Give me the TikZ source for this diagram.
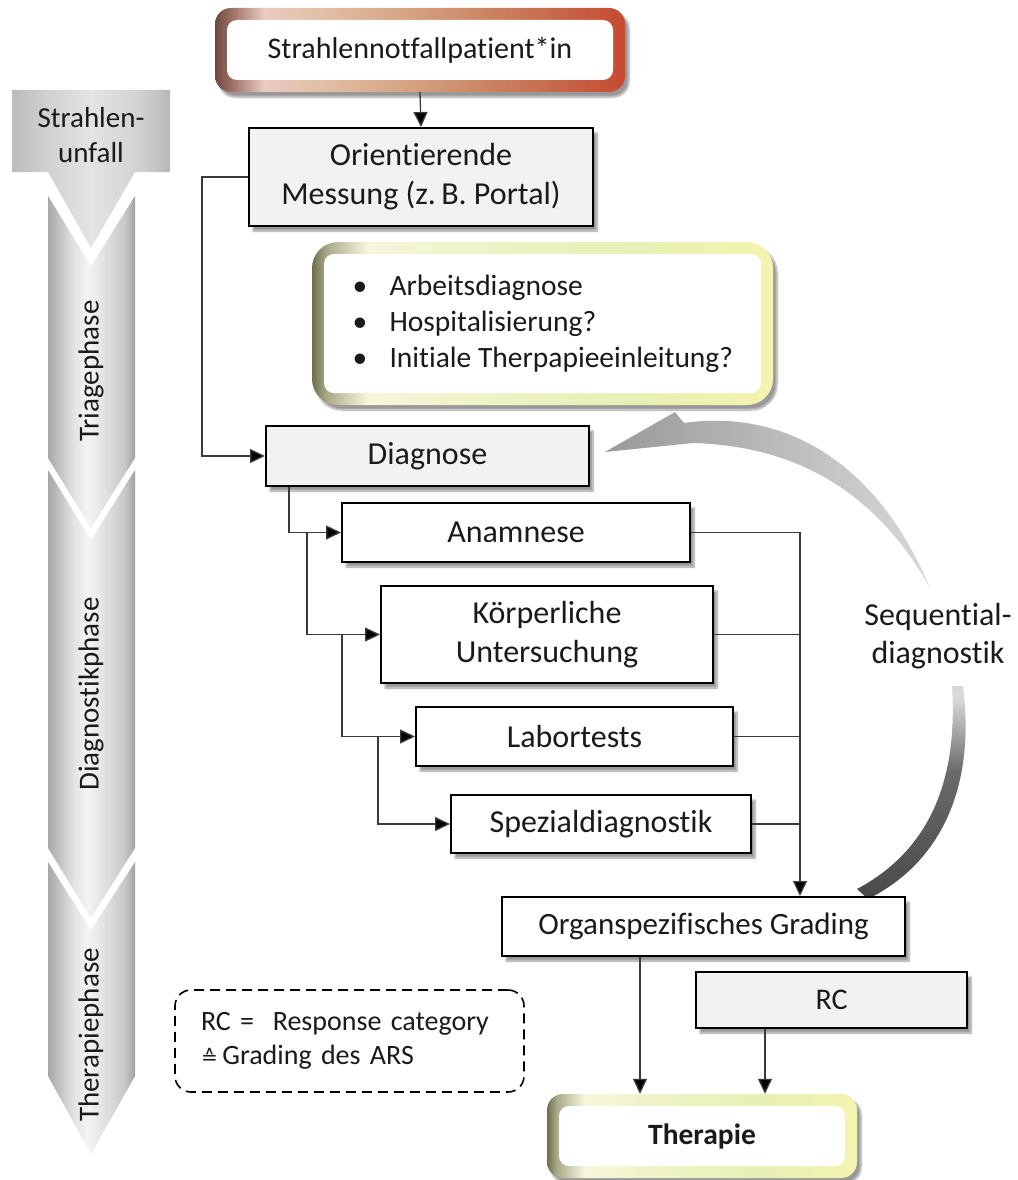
\documentclass[tikz,border=0pt]{standalone}
\usepackage{fontspec}
\setmainfont{Carlito}[Ligatures={NoCommon,NoRare,NoContextual}]
\newfontfamily\symfont{DejaVu Sans}
\usetikzlibrary{arrows.meta,shadows.blur,calc}

\definecolor{ink}{HTML}{1A1A1A}
\definecolor{boxgray}{HTML}{F2F2F2}
\definecolor{wire}{HTML}{3A3A3A}
% copper frame
\definecolor{rf0}{HTML}{6B4A42}\definecolor{rf1}{HTML}{9E6E62}
\definecolor{rf2}{HTML}{EACBC2}\definecolor{rf3}{HTML}{E2BFA5}
\definecolor{rf4}{HTML}{D39E7C}\definecolor{rf5}{HTML}{C87858}
\definecolor{rf6}{HTML}{C64A30}
% olive/yellow frame
\definecolor{yf0}{HTML}{6E6E50}\definecolor{yf1}{HTML}{A8A888}
\definecolor{yf2}{HTML}{F6F6DC}\definecolor{yf3}{HTML}{EEF4C8}
\definecolor{yf4}{HTML}{E6F0B4}\definecolor{yf5}{HTML}{F4F4B0}
% silver phase arrows
\definecolor{sv0}{HTML}{A8A8A8}\definecolor{sv1}{HTML}{E4E4E4}
\definecolor{sv2}{HTML}{F4F4F4}\definecolor{sv3}{HTML}{DCDCDC}
\definecolor{sv4}{HTML}{C8C8C8}\definecolor{sv5}{HTML}{A0A0A0}
\definecolor{hb0}{HTML}{BCBCBC}\definecolor{hb1}{HTML}{CFCFCF}
\definecolor{hb2}{HTML}{E4E4E4}\definecolor{hb3}{HTML}{D2D2D2}
\definecolor{hb4}{HTML}{B8B8B8}
% loop arrow
\definecolor{arcdark}{HTML}{999999}\definecolor{arclight}{HTML}{D8D8D8}
\definecolor{arcdeep}{HTML}{4A4A4A}\definecolor{arcmid}{HTML}{6A6A6A}

\pgfdeclarehorizontalshading{copperframe}{100bp}{color(0bp)=(rf0); color(25bp)=(rf0);
  color(27bp)=(rf1); color(31bp)=(rf2); color(38bp)=(rf3); color(50bp)=(rf4);
  color(62bp)=(rf5); color(75bp)=(rf6); color(100bp)=(rf6)}
\pgfdeclarehorizontalshading{oliveframe}{100bp}{color(0bp)=(yf0); color(25bp)=(yf0);
  color(26.5bp)=(yf1); color(31bp)=(yf2); color(42bp)=(yf3); color(60bp)=(yf4);
  color(75bp)=(yf5); color(100bp)=(yf5)}
\pgfdeclarehorizontalshading{silver}{100bp}{color(0bp)=(sv0); color(25bp)=(sv0);
  color(40bp)=(sv1); color(48bp)=(sv2); color(60bp)=(sv3); color(69bp)=(sv4);
  color(75bp)=(sv5); color(100bp)=(sv5)}
\pgfdeclarehorizontalshading{headgray}{100bp}{color(0bp)=(hb0); color(25bp)=(hb0);
  color(35bp)=(hb1); color(50bp)=(hb2); color(65bp)=(hb3); color(75bp)=(hb4);
  color(100bp)=(hb4)}
\pgfdeclareverticalshading{loopfoot}{100bp}{color(0bp)=(arcdeep); color(25bp)=(arcdeep);
  color(55bp)=(arcmid); color(72bp)=(arclight); color(75bp)=(arclight); color(100bp)=(arclight)}

\tikzset{
  soft/.style={blur shadow={shadow xshift=4pt,shadow yshift=-5pt,shadow opacity=40,shadow blur steps=8}},
  plain/.style={draw=black, line width=2pt, fill=white, text=ink, align=center,
    inner sep=0pt, font=\fontsize{32}{39}\selectfont, soft},
  greybox/.style={plain, fill=boxgray},
  framed/.style={rounded corners=16pt, text=ink, inner sep=0pt, soft,
    path picture={\fill[white,rounded corners=10pt]
      ([shift={(12pt,-12pt)}]path picture bounding box.north west) rectangle
      ([shift={(-12pt,12pt)}]path picture bounding box.south east);}},
  wire/.style={draw=wire, line width=1.3pt},
  arr/.style={wire, -{Triangle[length=15pt,width=14pt,fill=black]}},
  phase/.style={rotate=90, text=ink, font=\fontsize{29}{35}\selectfont},
}

\begin{document}
\begin{tikzpicture}[x=1pt,y=-1pt]
\useasboundingbox (0,0) rectangle (1017,1180);

% phase arrows on the left
\shade[shading=headgray] (12,90) -- (170,90) -- (170,172) -- (135,172) -- (91,248)
  -- (48,172) -- (12,172) -- cycle;
\shade[shading=silver] (48,196) -- (91,266) -- (135,196) -- (135,458) -- (91,528)
  -- (48,458) -- cycle;
\shade[shading=silver] (48,470) -- (91,540) -- (135,470) -- (135,848) -- (91,918)
  -- (48,848) -- cycle;
\shade[shading=silver] (48,862) -- (91,930) -- (135,862) -- (135,1076) -- (91,1154)
  -- (48,1076) -- cycle;
\node[text=ink, align=center, font=\fontsize{29}{35}\selectfont] (unfall) at (91,135)
  {Strahlen-\\unfall};
\node[phase] (triage) at (91,371) {Triagephase};
\node[phase] (diagph) at (91,694) {Diagnostikphase};
\node[phase] (therph) at (91,1035) {Therapiephase};

% sequential loop arrow
\shade[left color=arcdark, right color=arclight]
  (605,452) -- (675,412) -- (684,423) .. controls (790,408) and (880,468) .. (930,588)
  .. controls (878,495) and (800,446) .. (693,443) -- cycle;
\shade[shading=loopfoot]
  (952,686) .. controls (958,780) and (930,850) .. (857,889) -- (868,899)
  .. controls (946,860) and (975,780) .. (963,686) -- cycle;
\node[text=ink, align=center, font=\fontsize{32}{38}\selectfont] (seq) at (938,636)
  {Sequential-\\diagnostik};

% main boxes
\node[framed, shading=copperframe, minimum width=410pt, minimum height=84pt,
  font=\fontsize{30}{36}\selectfont] (pat) at (420,50) {Strahlennotfallpatient*in};
\node[greybox, minimum width=344pt, minimum height=98pt] (ori) at (421,177)
  {Orientierende\\Messung (z.\,B. Portal)};
\node[framed, shading=oliveframe, rounded corners=26pt, minimum width=461pt,
  minimum height=163pt] (bul) at (542.5,323.5) {};
\node[anchor=west, align=left, text=ink, font=\fontsize{29.5}{36}\selectfont]
  (bultext) at (349,324)
  {\makebox[37pt][l]{•}Arbeitsdiagnose\\
   \makebox[37pt][l]{•}Hospitalisierung?\\
   \makebox[37pt][l]{•}Initiale Therpapieeinleitung?};
\node[greybox, minimum width=323pt, minimum height=60pt] (diag) at (427.5,456) {Diagnose};
\node[plain, minimum width=348pt, minimum height=59pt] (anam) at (516,532.5) {Anamnese};
\node[plain, minimum width=332pt, minimum height=97pt] (koerp) at (547,634.5)
  {Körperliche\\Untersuchung};
\node[plain, minimum width=317pt, minimum height=59pt] (lab) at (574.5,736.5) {Labortests};
\node[plain, minimum width=300pt, minimum height=58pt] (spez) at (601,824) {Spezialdiagnostik};
\node[plain, minimum width=403pt, minimum height=59pt, font=\fontsize{31}{37}\selectfont]
  (grad) at (703.5,926.5) {Organspezifisches Grading};
\node[greybox, minimum width=271pt, minimum height=56pt, font=\fontsize{30}{36}\selectfont]
  (rc) at (831.5,1000) {RC};
\node[framed, shading=oliveframe, minimum width=310pt, minimum height=84pt,
  font=\bfseries\fontsize{29.5}{35}\selectfont] (ther) at (702,1136) {Therapie};

% legend
\node[draw=black, line width=1.6pt, dash pattern=on 10pt off 6pt, rounded corners=16pt,
  minimum width=349pt, minimum height=102pt, inner xsep=26pt, text width=297pt,
  align=left, text=ink, font=\fontsize{28}{34}\selectfont] (leg) at (349.5,1041)
  {RC =\ \ Response category\\{\symfont\fontsize{20}{34}\selectfont ≙}\,Grading des ARS};

% connectors
\draw[arr] (pat.south) -- (ori.north);
\draw[arr] (ori.west) -- ++(-46,0) |- (diag.west);
\draw[arr] ([xshift=24pt]diag.south west) |- (anam.west);
\draw[arr] ([xshift=-34pt]anam.west) |- (koerp.west);
\draw[arr] ([xshift=-38pt]koerp.west) |- (lab.west);
\draw[arr] ([xshift=-37pt]lab.west) |- (spez.west);

\coordinate (gin) at ([xshift=96.5pt]grad.north);
\draw[arr] (anam.east) -| (gin);
\draw[wire] (koerp.east) -- (koerp.east -| gin);
\draw[wire] (lab.east) -- (lab.east -| gin);
\draw[wire] (spez.east) -- (spez.east -| gin);

\coordinate (gout) at ([xshift=-63.5pt]grad.south);
\coordinate (rout) at ([xshift=-66.5pt]rc.south);
\draw[arr] (gout) -- (gout |- ther.north);
\draw[arr] (rout) -- (rout |- ther.north);
\end{tikzpicture}
\end{document}
